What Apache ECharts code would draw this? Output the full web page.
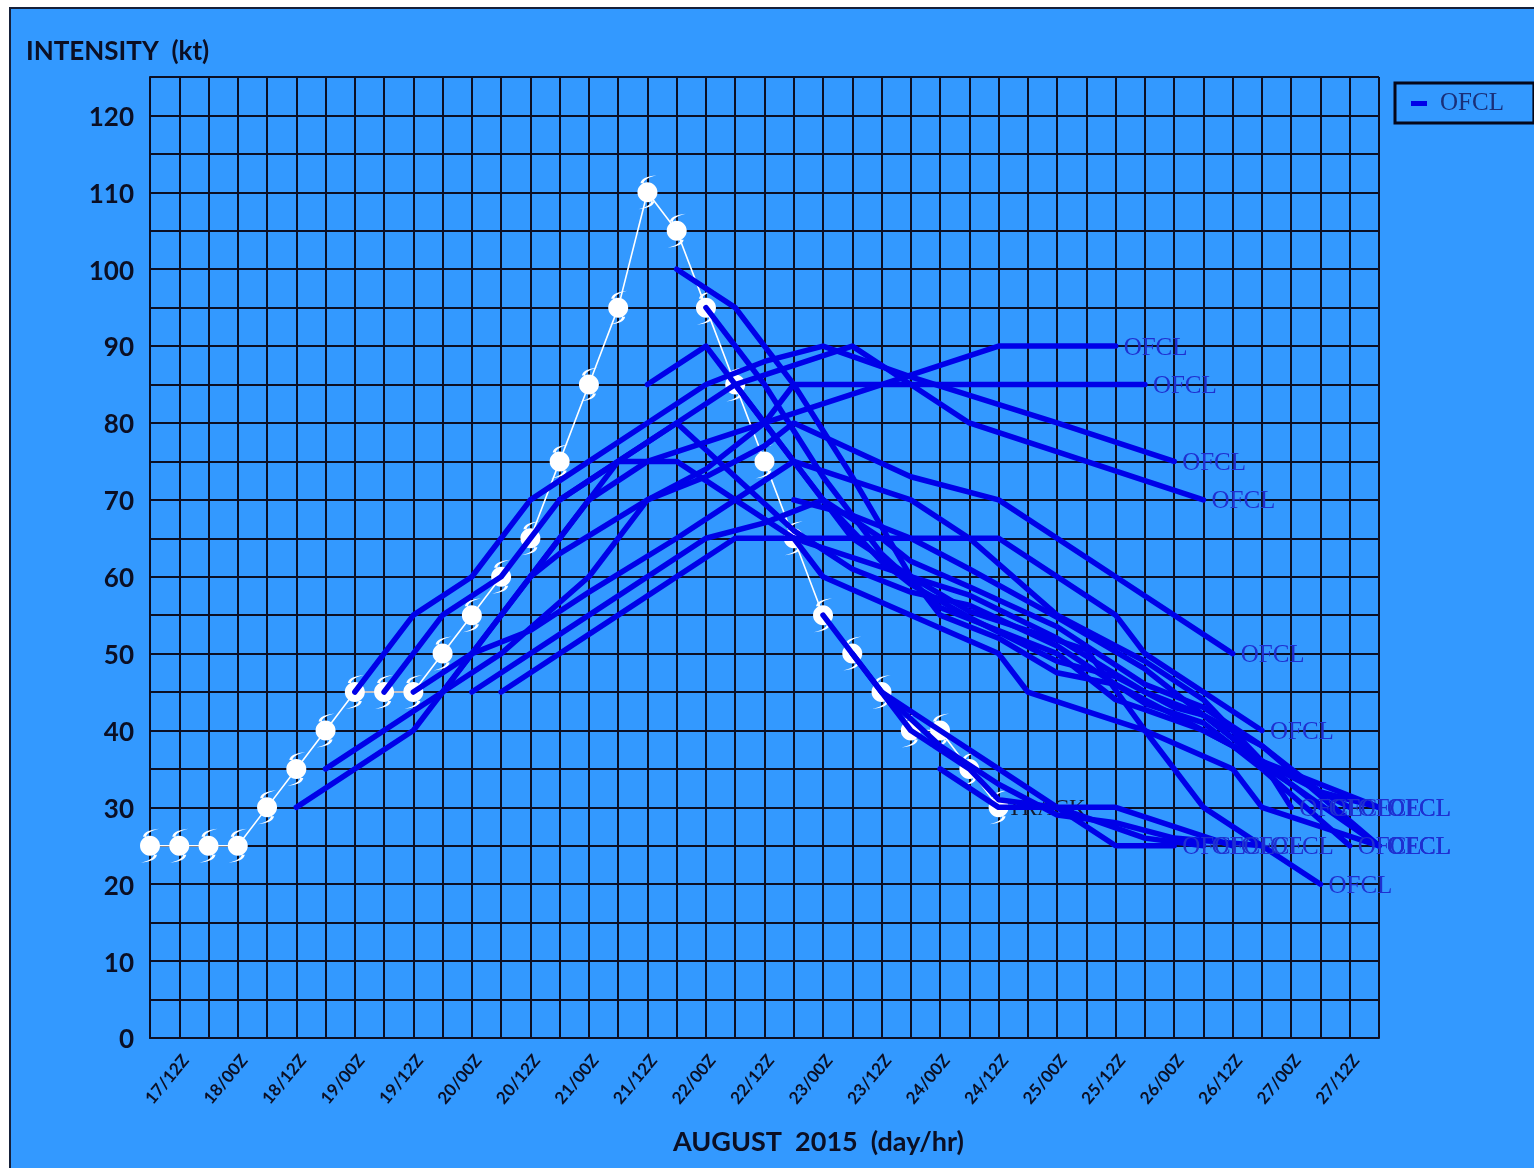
<!DOCTYPE html>
<html>
<head>
<meta charset="utf-8">
<style>html,body{margin:0;padding:0;background:#fff}#c{width:1534px;height:1168px}</style>
<script src="https://cdn.jsdelivr.net/npm/echarts@6/dist/echarts.min.js"></script>
</head>
<body>
<div id="c"></div>
<script>
// Six-hourly time slots along the axis
const timeSlots = ["17/06Z","17/12Z","17/18Z","18/00Z","18/06Z","18/12Z","18/18Z","19/00Z","19/06Z","19/12Z","19/18Z","20/00Z","20/06Z","20/12Z","20/18Z","21/00Z","21/06Z","21/12Z","21/18Z","22/00Z","22/06Z","22/12Z","22/18Z","23/00Z","23/06Z","23/12Z","23/18Z","24/00Z","24/06Z","24/12Z","24/18Z","25/00Z","25/06Z","25/12Z","25/18Z","26/00Z","26/06Z","26/12Z","26/18Z","27/00Z","27/06Z","27/12Z","27/18Z"];

// Observed intensity (kt), one per slot from 17/06Z
const track = [25,25,25,25,30,35,40,45,45,45,50,55,60,65,75,85,95,110,105,95,85,75,65,55,50,45,40,40,35,30];

// Official forecasts: [slot index, kt]
const ofclA = [[5,30],[9,40],[13,60],[15,70],[17,75],[21,80],[25,85],[29,90],[33,90]];
const ofclB = [[6,35],[10,45],[12,50],[15,60],[17,70],[19,74],[21,80],[22,85],[34,85]];
const ofclC = [[7,45],[9,55],[11,60],[13,70],[15,75],[17,80],[19,85],[21,88],[23,90],[26,86],[31,80],[35,75]];
const ofclD = [[8,45],[10,55],[12,60],[14,70],[16,75],[18,80],[20,85],[24,90],[26,85],[28,80],[36,70]];
const ofclE = [[10,45],[12,55],[13,60],[14,63],[17,70],[19,73],[21,77],[22,80],[26,73],[29,70],[33,60],[37,50]];
const ofclF = [[12,45],[16,55],[20,65],[29,65],[33,55],[34,50],[38,40]];
const ofclG = [[9,45],[11,50],[13,53],[15,58],[18,65],[20,70],[22,75],[26,70],[28,65],[31,55],[34,49],[36,44],[38,36],[39,30]];
const ofclH = [[11,45],[15,55],[19,65],[21,67],[23,70],[25,65],[26,62],[28,58.7],[31,53.5],[34,46],[36,43],[38,38],[40,32],[42,30]];
const ofclI = [[13,60],[15,70],[16,75],[18,75],[20,70],[22,65],[26,60],[28,57.6],[31,52],[34,45],[36,42],[38,36],[41,30]];
const ofclJ = [[14,70],[16,75],[18,80],[20,73],[22,66],[24,61],[26,58],[28,56.3],[31,51],[34,43.5],[36,41],[38,35],[41,25]];
const ofclK = [[17,85],[19,90],[21,80],[23,70],[25,62],[26,59],[28,54.7],[31,49],[33,47],[35,43],[36,42],[38,38],[42,25]];
const ofclL = [[18,100],[20,95],[22,85],[24,73],[26,60],[27,55],[29,52],[31,47.5],[33,46],[35,42],[37,38],[39,33],[42,25]];
const ofclM = [[19,95],[21,85],[23,73],[25,63],[27,56],[29,53],[31,50],[33,44],[34,42.7],[36,40],[38,36],[40,30]];
const ofclN = [[20,85],[22,75],[24,65],[26,60],[28,55.5],[32,50.5],[34,40],[36,30],[40,20]];
const ofclO = [[22,70],[24,68],[26,65],[28,61],[31,54.7],[34,48],[36,42],[38,36],[42,30]];
const ofclP = [[22,65],[23,60],[26,55],[29,50],[30,45],[34,40],[37,35],[38,30],[42,25]];
const ofclQ = [[23,55],[24,50],[25,45],[27,40],[29,35],[31,30],[33,25],[35,25]];
const ofclR = [[24,50],[25,45],[26,40],[28,35],[29,31],[31,30],[34,26],[36,25]];
const ofclS = [[27,35],[29,30],[33,30],[37,25]];
const ofclT = [[25,45],[27,38],[29,33],[31,29],[33,28],[35,26],[38,25]];
const forecasts = [ofclA,ofclB,ofclC,ofclD,ofclE,ofclF,ofclG,ofclH,ofclI,ofclJ,ofclK,ofclL,ofclM,ofclN,ofclO,ofclP,ofclQ,ofclR,ofclS,ofclT];

const BLUE = '#0000e8', INK = '#0b0f24', SERIF = '"Liberation Serif", serif', SANS = 'Lato, "Open Sans", sans-serif';
// Storm glyph: round body with two thin tails, drawn in a -10..10 / -17..17 box
const storm = 'path://M-10,0 C-10,-5.5 -5.5,-10 0,-10 C5.5,-10 10,-5.5 10,0 C10,5.5 5.5,10 0,10 C-5.5,10 -10,5.5 -10,0 Z M-7,-9 C-6,-14 0,-16 9,-17 C2,-15 -3,-13 -4,-9 Z M7,9 C6,14 0,16 -9,17 C-2,15 3,13 4,9 Z';

const chart = echarts.init(document.getElementById('c'), null, {renderer:'canvas'});
chart.setOption({
  animation:false,
  backgroundColor:'#ffffff',
  graphic:[{type:'rect',z:-10,shape:{x:10,y:8,width:1530,height:1170},style:{fill:'#3399ff',stroke:'#15203a',lineWidth:2}}],
  title:{text:'INTENSITY  (kt)',left:26,top:39,padding:0,textStyle:{fontFamily:SANS,fontWeight:'bold',fontSize:26,color:INK}},
  grid:{left:150,right:155,top:77,bottom:130,containLabel:false},
  legend:{left:1395,top:83,padding:[8,30,7,16],data:['OFCL'],icon:'rect',itemWidth:16,itemHeight:5,itemGap:0,borderColor:'#05071a',borderWidth:3,
    textStyle:{fontFamily:SERIF,fontSize:25,color:'#1a2f78',padding:[0,0,0,8]}},
  xAxis:{type:'category',data:timeSlots,boundaryGap:false,
    name:'AUGUST  2015  (day/hr)',nameLocation:'middle',nameGap:91,
    nameTextStyle:{fontFamily:SANS,fontWeight:'bold',fontSize:27,color:INK,padding:[0,0,0,108]},
    axisLine:{lineStyle:{color:INK,width:2}},axisTick:{show:false},
    splitLine:{show:true,interval:0,lineStyle:{color:INK,width:2}},
    axisLabel:{interval:(i)=>i%2===1,rotate:50,margin:14,align:'right',verticalAlign:'top',fontFamily:SANS,fontWeight:'bold',fontSize:17,color:INK,hideOverlap:false}},
  yAxis:{type:'value',min:0,max:125,interval:5,
    axisLine:{show:true,lineStyle:{color:INK,width:2}},axisTick:{show:false},
    splitLine:{show:true,lineStyle:{color:INK,width:2}},
    axisLabel:{margin:16,fontFamily:SANS,fontWeight:'bold',fontSize:26,color:INK,
      formatter:(v)=>(v%10===0?'{n|'+v+'}':''),
      rich:{n:{fontFamily:SANS,fontWeight:'bold',fontSize:26,color:INK,padding:[4,0,0,0]}}}},
  series:[
    {type:'line',name:'TRACK',data:track.map((v,i)=>[i,v]),z:3,clip:false,
      lineStyle:{color:'#ffffff',width:1.6},itemStyle:{color:'#ffffff',opacity:1},
      symbol:storm,symbolSize:[20,34],symbolKeepAspect:false,showSymbol:true,showAllSymbol:true,
      endLabel:{show:true,formatter:'TRACK',distance:9,offset:[0,2],fontFamily:SERIF,fontSize:23,color:'#141a2e'}},
    ...forecasts.map(f=>({type:'line',name:'OFCL',data:f,z:4,clip:false,showSymbol:false,symbol:'none',
      lineStyle:{color:BLUE,width:5.5,cap:'round',join:'round'},itemStyle:{color:BLUE},
      endLabel:{show:true,formatter:'OFCL',distance:8,offset:[0,2],fontFamily:SERIF,fontSize:25,color:'#1f2fd0'}}))
  ]
});
</script>
</body>
</html>
